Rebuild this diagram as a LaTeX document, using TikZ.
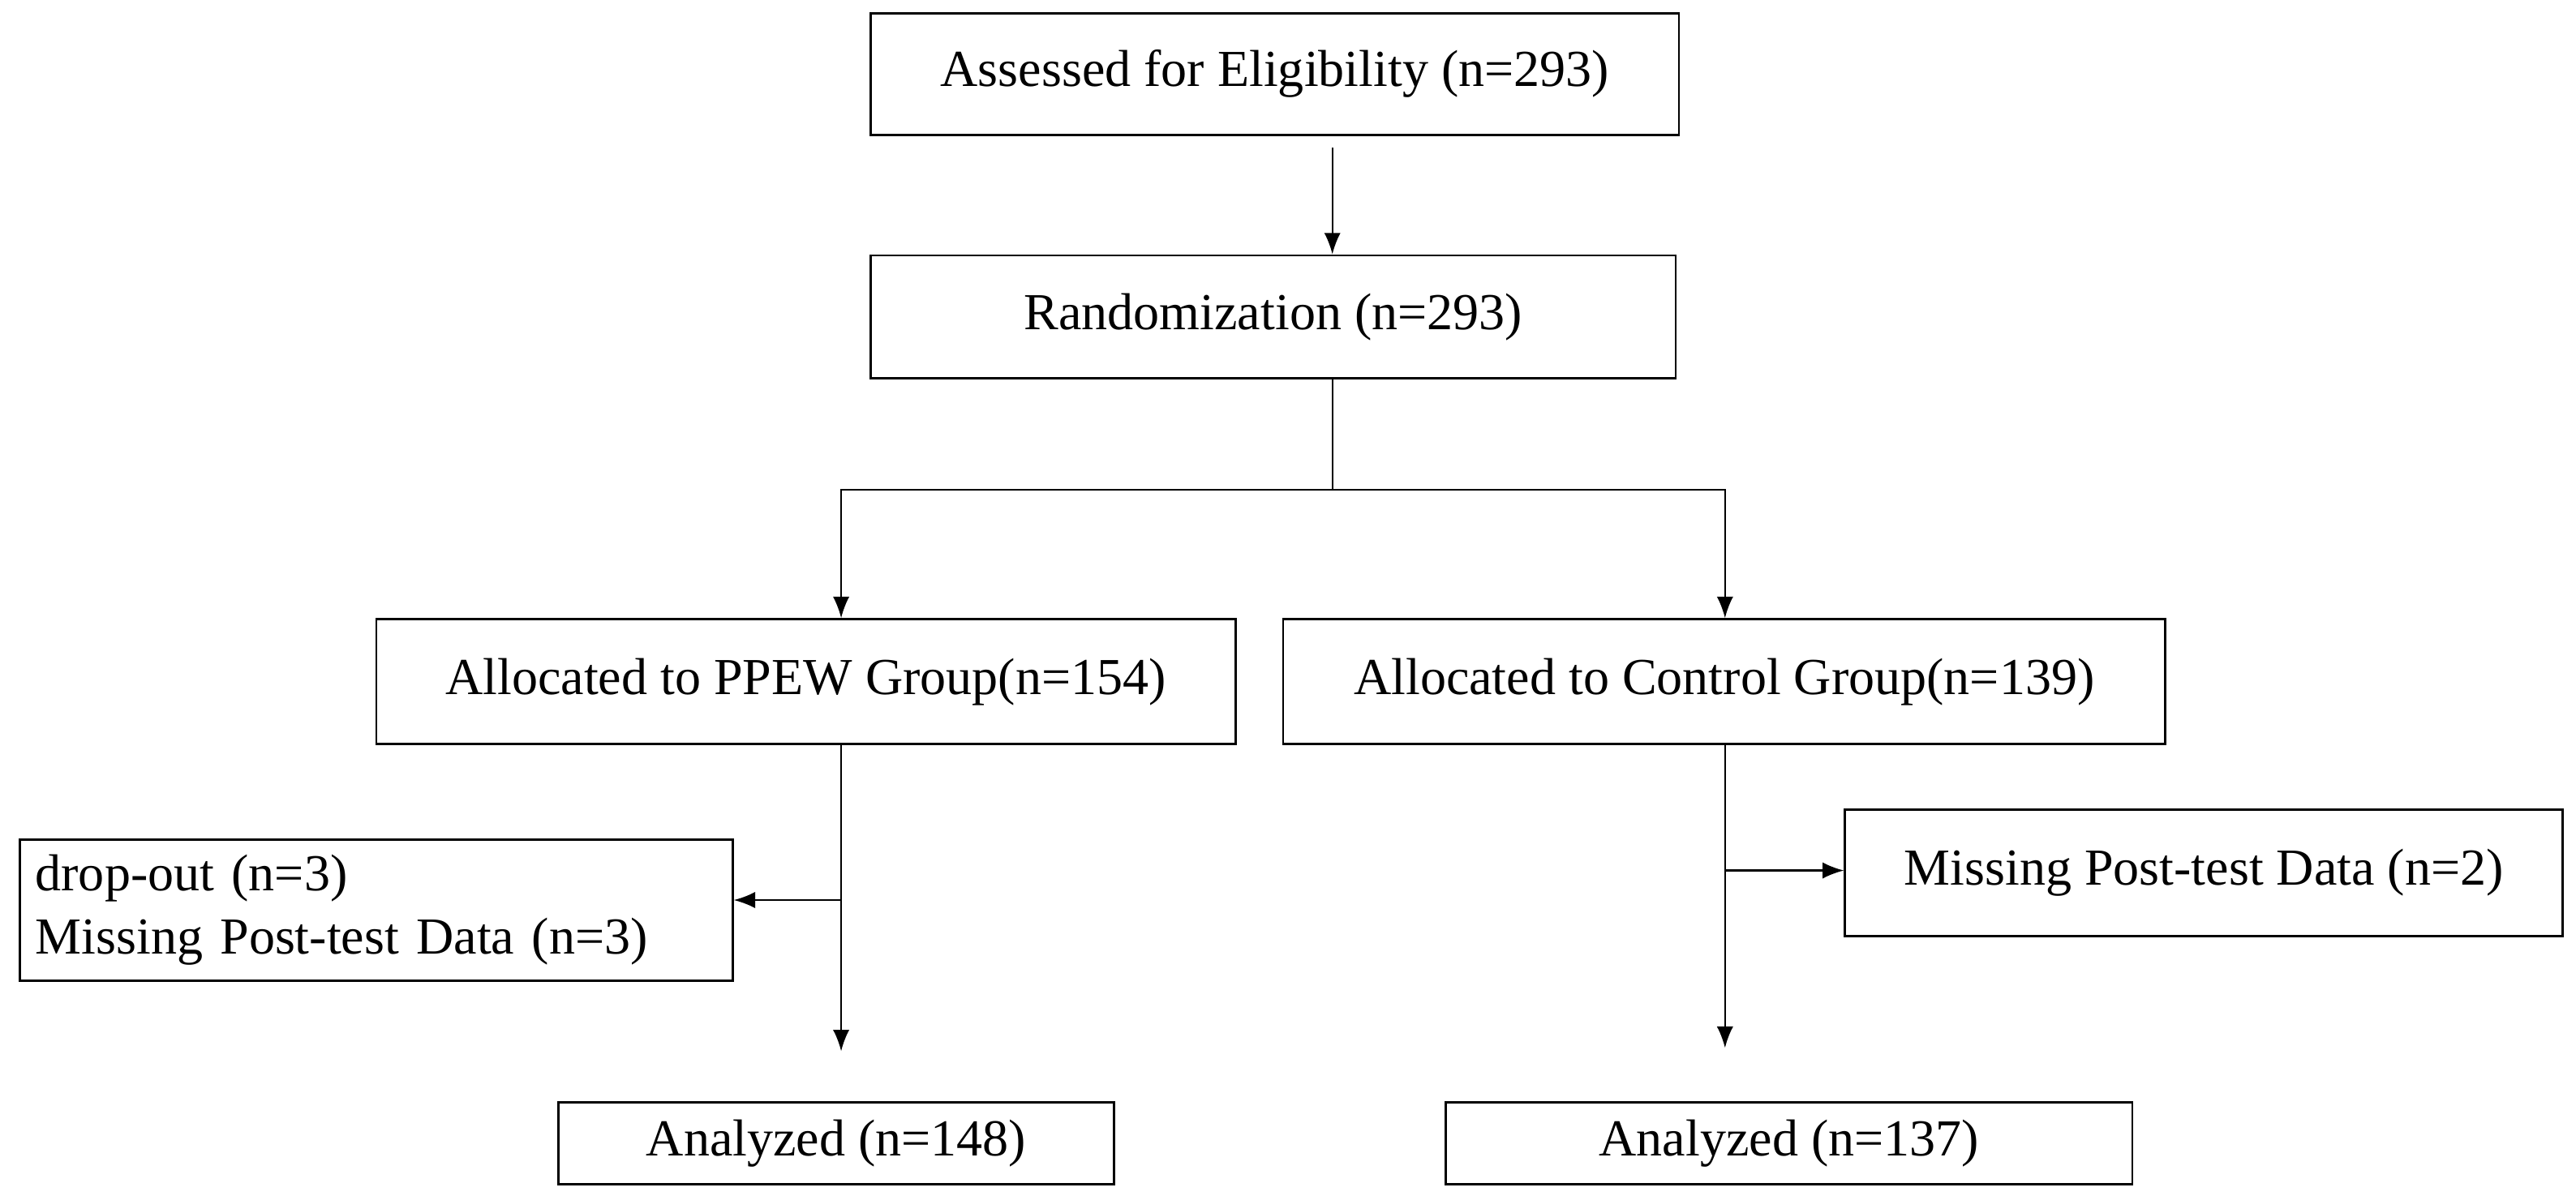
\documentclass[tikz,border=0pt]{standalone}
\usepackage{fontspec}
\setmainfont{Liberation Serif}
\usetikzlibrary{arrows.meta}

\begin{document}
\begin{tikzpicture}[x=0.02cm,y=-0.02cm,
  box/.style={draw,thick,inner sep=0pt,font=\fontsize{18}{22}\selectfont},
  arr/.style={-{Latex[length=2.6mm,width=2mm]},semithick}]
      \useasboundingbox (0,0) rectangle (1568,728);

      \node[box,minimum width=9.84cm,minimum height=1.48cm] (assess) at (776,45) {Assessed for Eligibility (n=293)};
      \node[box,minimum width=9.8cm,minimum height=1.5cm] (random) at (775,193) {Randomization (n=293)};

      \node[box,minimum width=10.46cm,minimum height=1.52cm] (ppew) at (490.5,415) {Allocated to PPEW Group(n=154)};
      \node[box,minimum width=10.74cm,minimum height=1.52cm] (ctrl) at (1049.5,415) {Allocated to Control Group(n=139)};

      \node[box,minimum width=8.68cm,minimum height=1.72cm,align=left,text width=8.3cm] (drop) at (229,554) {\raggedright drop-out (n=3)\\Missing Post-test Data (n=3)};
      \node[box,minimum width=8.74cm,minimum height=1.54cm] (miss) at (1341.5,531.5) {Missing Post-test Data (n=2)};

      \node[box,minimum width=6.76cm,minimum height=1.0cm] (anaL) at (509,696) {Analyzed (n=148)};
      \node[box,minimum width=8.36cm,minimum height=1.0cm] (anaR) at (1089,696) {Analyzed (n=137)};

      % connectors
      \coordinate (split) at (811,298);
      \coordinate (dropL) at (512,548);
      \coordinate (missR) at (1055,530);
      \draw[arr] (811,90) -- (random.north -| split);
      \draw[semithick] (random.south -| split) -- (split);
      \draw[arr] (split) -| (ppew.north -| dropL);
      \draw[arr] (split) -| (ctrl.north -| 1050,0);
      \draw[arr] (ppew.south -| dropL) -- (512,640);
      \draw[arr] (dropL) -- (drop.east |- dropL);
      \draw[arr] (ctrl.south -| 1050,0) -- (1050,638);
      \draw[arr] (1050,530) -- (miss.west |- missR);
\end{tikzpicture}
\end{document}
